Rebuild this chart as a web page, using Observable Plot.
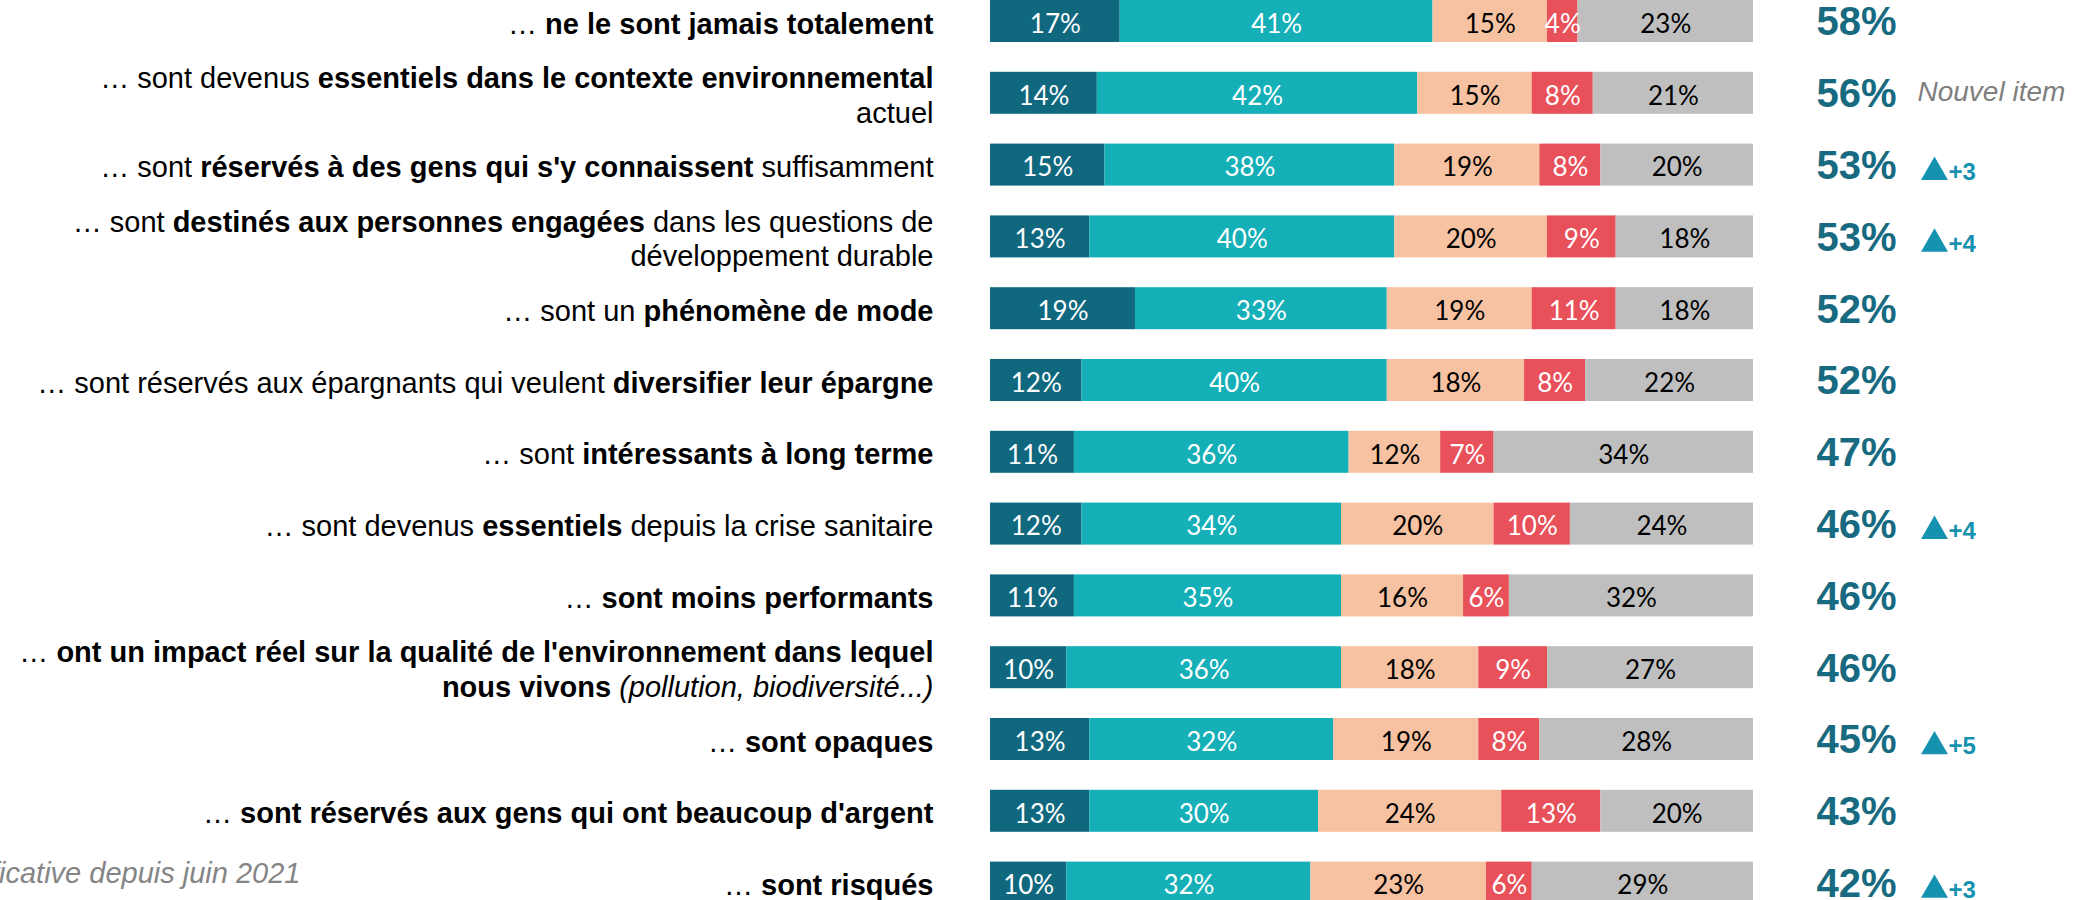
<!DOCTYPE html>
<html>
<head>
<meta charset="utf-8">
<script src="https://cdn.jsdelivr.net/npm/d3@7"></script>
<script src="https://cdn.jsdelivr.net/npm/@observablehq/plot@0.6"></script>
<style>
  html, body { margin: 0; padding: 0; background: #fff; overflow: hidden; }
  #chart svg { display: block; }
</style>
</head>
<body>
<div id="chart"></div>
<script>
// Row labels (**bold**, _italic_), top to bottom
const items = [
  "… **ne le sont jamais totalement**",
  "… sont devenus **essentiels dans le contexte environnemental**\nactuel",
  "… sont **réservés à des gens qui s'y connaissent** suffisamment",
  "… sont **destinés aux personnes engagées** dans les questions de\ndéveloppement durable",
  "… sont un **phénomène de mode**",
  "… sont réservés aux épargnants qui veulent **diversifier leur épargne**",
  "… sont **intéressants à long terme**",
  "… sont devenus **essentiels** depuis la crise sanitaire",
  "… **sont moins performants**",
  "… **ont un impact réel sur la qualité de l'environnement dans lequel**\n**nous vivons** _(pollution, biodiversité...)_",
  "… **sont opaques**",
  "… **sont réservés aux gens qui ont beaucoup d'argent**",
  "… **sont risqués**"
];

const categories = ["Tout à fait d'accord", "Plutôt d'accord", "Plutôt pas d'accord", "Pas du tout d'accord", "Ne sait pas"];
const colors = ["#10687f", "#14afb7", "#f7c2a1", "#e8505a", "#bfbfbf"];

const toutAFait = [17, 14, 15, 13, 19, 12, 11, 12, 11, 10, 13, 13, 10];
const plutot    = [41, 42, 38, 40, 33, 40, 36, 34, 35, 36, 32, 30, 32];
const plutotPas = [15, 15, 19, 20, 19, 18, 12, 20, 16, 18, 19, 24, 23];
const pasDuTout = [ 4,  8,  8,  9, 11,  8,  7, 10,  6,  9,  8, 13,  6];
const nsp       = [23, 21, 20, 18, 18, 22, 34, 24, 32, 27, 28, 20, 29];

const totals     = [58, 56, 53, 53, 52, 52, 47, 46, 46, 46, 45, 43, 42];
const evolutions = [null, null, 3, 4, null, null, null, 4, null, null, 5, null, 3];
const notes      = ["", "Nouvel item", "", "", "", "", "", "", "", "", "", "", ""];
const caption    = "Évolution significative depuis juin 2021";

const series = [toutAFait, plutot, plutotPas, pasDuTout, nsp];
const whiteCats = new Set([categories[0], categories[1], categories[3]]);

const data = items.flatMap((item, i) =>
  categories.map((cat, j) => ({item, cat, value: series[j][i]}))
);
const totalRows = items.map((item, i) => ({item, total: totals[i], evo: evolutions[i], note: notes[i]}));
const evoRows = totalRows.filter(d => d.evo != null);
const noteRows = totalRows.filter(d => d.note);

const arial = "'Liberation Sans', Arial, Helvetica, sans-serif";
const calib = "Lato, 'Open Sans', sans-serif";

const chart = Plot.plot({
  width: 2098,
  height: 900,
  marginLeft: 990,
  marginRight: 345,
  marginTop: 0,
  marginBottom: 0,
  style: {background: "white"},
  x: {domain: [0, 100], axis: null},
  y: {domain: items, range: [0, 903.6], paddingInner: 0.415, paddingOuter: 0, round: false, axis: null},
  color: {domain: categories, range: colors},
  marks: [
    Plot.barX(data, {x: "value", y: "item", fill: "cat"}),
    Plot.text(data, Plot.stackX({
      x: "value", y: "item", z: "cat",
      text: d => whiteCats.has(d.cat) ? d.value + "%" : "",
      fill: "white", fontFamily: calib, fontSize: 26, dy: 3
    })),
    Plot.text(data, Plot.stackX({
      x: "value", y: "item", z: "cat",
      text: d => whiteCats.has(d.cat) ? "" : d.value + "%",
      fill: "black", fontFamily: calib, fontSize: 26, dy: 3
    })),
    // row labels
    Plot.text(items, {
      y: d => d, text: d => d,
      frameAnchor: "left", dx: -57, textAnchor: "end",
      fontFamily: arial, fontSize: 29, lineHeight: 1.2, fill: "black", dy: 1
    }),
    // totals
    Plot.text(totalRows, {
      y: "item", text: d => d.total + "%",
      frameAnchor: "right", dx: 63, textAnchor: "start",
      fontFamily: arial, fontSize: 40, fontWeight: "bold", fill: "#176a80", dy: 1
    }),
    // notes
    Plot.text(noteRows, {
      y: "item", text: "note",
      frameAnchor: "right", dx: 164, textAnchor: "start",
      fontFamily: arial, fontSize: 28, fontStyle: "italic", fill: "#7f7f7f", dy: -1
    }),
    // evolution triangles
    Plot.dot(evoRows, {
      y: "item", symbol: "triangle", r: 10,
      frameAnchor: "right", dx: 181, dy: 7,
      fill: "#1592b0", stroke: null
    }),
    Plot.text(evoRows, {
      y: "item", text: d => "+" + d.evo,
      frameAnchor: "right", dx: 195, textAnchor: "start",
      fontFamily: arial, fontSize: 24, fontWeight: "bold", fill: "#1592b0", dy: 7
    }),
    // caption (partly cut at the left edge, as in the source)
    Plot.text([caption], {
      y: [items[items.length - 1]], text: d => d,
      frameAnchor: "left", dx: -690, textAnchor: "end",
      fontFamily: arial, fontSize: 29, fontStyle: "italic", fill: "#858585", dy: -9
    })
  ]
});

// rich text: turn **bold** and _italic_ markers into tspans
const NS = "http://www.w3.org/2000/svg";
function richify(node) {
  const s = node.textContent;
  while (node.firstChild) node.removeChild(node.firstChild);
  const parts = s.split(/(\*\*[^*]+\*\*|_[^_]+_)/g);
  for (const p of parts) {
    if (!p) continue;
    const t = document.createElementNS(NS, "tspan");
    if (p.startsWith("**") && p.endsWith("**") && p.length > 4) {
      t.setAttribute("font-weight", "bold");
      t.textContent = p.slice(2, -2);
    } else if (p.length > 1 && p.startsWith("_") && p.endsWith("_")) {
      t.setAttribute("font-style", "italic");
      t.textContent = p.slice(1, -1);
    } else {
      t.textContent = p;
    }
    node.appendChild(t);
  }
}
chart.querySelectorAll("text").forEach(text => {
  if (!/\*\*|_/.test(text.textContent)) return;
  const lines = Array.from(text.children).filter(c => c.tagName.toLowerCase() === "tspan");
  if (lines.length) lines.forEach(richify);
  else richify(text);
});

document.getElementById("chart").appendChild(chart);
</script>
</body>
</html>
